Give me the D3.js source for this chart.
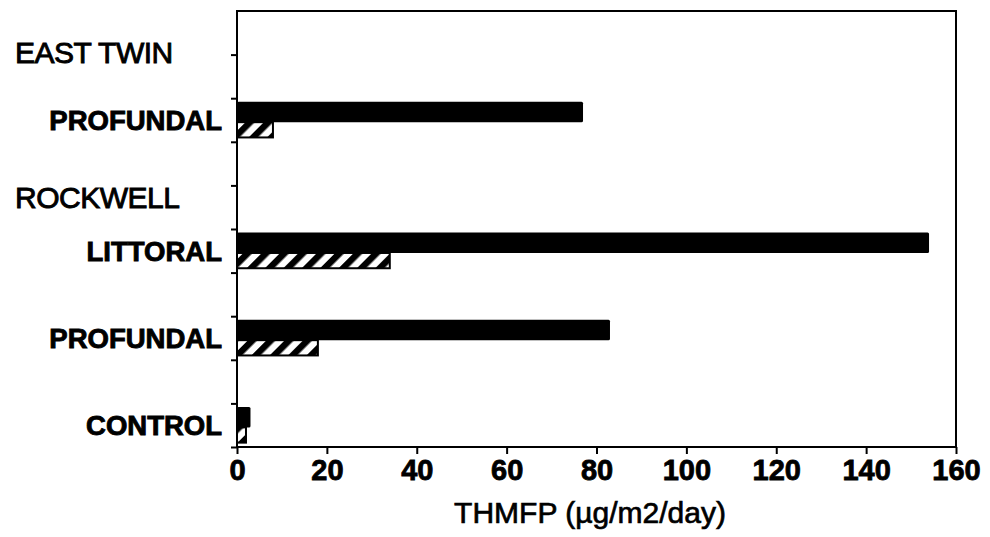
<!DOCTYPE html>
<html>
<head>
<meta charset="utf-8">
<script src="https://cdn.jsdelivr.net/npm/d3@7"></script>
<style>
  body { margin: 0; background: #fff; }
  text { font-family: "Liberation Sans", Arial, Helvetica, sans-serif; fill: #000; }
</style>
</head>
<body>
<div id="chart"></div>
<script>
// values
var groupLabels = ["EAST TWIN", "ROCKWELL"];
var groupSlots = [1, 4];
var categoryLabels = ["PROFUNDAL", "LITTORAL", "PROFUNDAL", "CONTROL"];
var categorySlots = [2, 5, 7, 9];
var solidValues = [77, 154, 83, 3];
var hatchedValues = [8, 34, 18, 2];
var xTicks = [0, 20, 40, 60, 80, 100, 120, 140, 160];
var slotCount = 10;

var width = 990, height = 537;
var plotLeft = 237, plotRight = 956, plotTop = 11, plotBottom = 447;

var svg = d3.select("#chart")
  .append("svg")
    .attr("width", width)
    .attr("height", height);

// diagonal hatch
var pat = svg.append("defs").append("pattern")
  .attr("id", "hatch")
  .attr("patternUnits", "userSpaceOnUse")
  .attr("width", 13)
  .attr("height", 13)
  .attr("patternTransform", "rotate(45)");
pat.append("rect").attr("width", 13).attr("height", 13).attr("fill", "#fff");
pat.append("rect").attr("width", 6.5).attr("height", 13).attr("fill", "#000");

var x = d3.scaleLinear().domain([0, 160]).range([plotLeft, plotRight]);
var y = d3.scaleBand().domain(d3.range(slotCount)).range([plotTop, plotBottom]);
var yEdge = d3.scaleLinear().domain([0, slotCount]).range([plotTop, plotBottom]);
// position inside a band: 0 = band top, 1 = band bottom
var inBand = d3.scaleLinear().domain([0, 1]).range([0, y.bandwidth()]);
var solidTop = inBand(0.08), split = inBand(0.55), hatchBottom = inBand(0.90);

var rows = categoryLabels.map(function(label, i) {
  return { label: label, slot: categorySlots[i], solid: solidValues[i], hatched: hatchedValues[i] };
});

// bars
svg.selectAll("rect.solid")
  .data(rows)
  .enter()
  .append("rect")
  .classed("solid", true)
  .attr("x", x(0))
  .attr("y", function(d) { return y(d.slot) + solidTop; })
  .attr("width", function(d) { return x(d.solid) - x(0); })
  .attr("height", split - solidTop)
  .attr("rx", 1.5)
  .attr("fill", "#000");

svg.selectAll("rect.hatched")
  .data(rows)
  .enter()
  .append("rect")
  .classed("hatched", true)
  .attr("x", x(0))
  .attr("y", function(d) { return y(d.slot) + split; })
  .attr("width", function(d) { return x(d.hatched) - x(0); })
  .attr("height", hatchBottom - split)
  .attr("fill", "url(#hatch)")
  .attr("stroke", "#000")
  .attr("stroke-width", 2);

// frame
svg.append("rect")
  .attr("x", plotLeft).attr("y", plotTop)
  .attr("width", plotRight - plotLeft).attr("height", plotBottom - plotTop)
  .attr("fill", "none")
  .attr("stroke", "#000")
  .attr("stroke-width", 2);

// x axis
var xAxis = svg.append("g")
  .attr("transform", "translate(0," + plotBottom + ")")
  .call(d3.axisBottom(x).tickValues(xTicks).tickSize(7).tickPadding(5).tickFormat(d3.format("d")));
xAxis.select(".domain").remove();
xAxis.selectAll("line").attr("stroke-width", 2);
xAxis.selectAll("text")
  .style("font-size", "29px")
  .style("font-weight", "bold")
  .attr("stroke", "#000")
  .attr("stroke-width", 0.8)
  .attr("font-family", null);

// y axis ticks at band edges
var yAxis = svg.append("g")
  .attr("transform", "translate(" + plotLeft + ",0)")
  .call(d3.axisLeft(yEdge).tickValues(d3.range(1, slotCount + 1)).tickSize(6).tickFormat(""));
yAxis.select(".domain").remove();
yAxis.selectAll("line").attr("stroke-width", 2);

// category labels
svg.selectAll("text.cat")
  .data(rows)
  .enter()
  .append("text")
  .classed("cat", true)
  .attr("x", plotLeft - 15)
  .attr("y", function(d) { return y(d.slot) + y.bandwidth() / 2; })
  .attr("dy", "0.36em")
  .attr("text-anchor", "end")
  .style("font-size", "27.5px")
  .style("font-weight", "bold")
  .attr("stroke", "#000")
  .attr("stroke-width", 0.9)
  .text(function(d) { return d.label; });

// group headers
var headerShift = [-2, 12];
svg.selectAll("text.group")
  .data(groupLabels)
  .enter()
  .append("text")
  .classed("group", true)
  .attr("x", 15)
  .attr("y", function(d, i) { return y(groupSlots[i]) + headerShift[i]; })
  .attr("dy", "0.36em")
  .style("font-size", "30px")
  .style("letter-spacing", "-0.5px")
  .attr("stroke", "#000")
  .attr("stroke-width", 0.9)
  .text(function(d) { return d; });

// axis title
svg.append("text")
  .attr("x", 590)
  .attr("y", 523)
  .attr("text-anchor", "middle")
  .style("font-size", "30px")
  .attr("stroke", "#000")
  .attr("stroke-width", 0.7)
  .text("THMFP (\u00b5g/m2/day)");
</script>
</body>
</html>
